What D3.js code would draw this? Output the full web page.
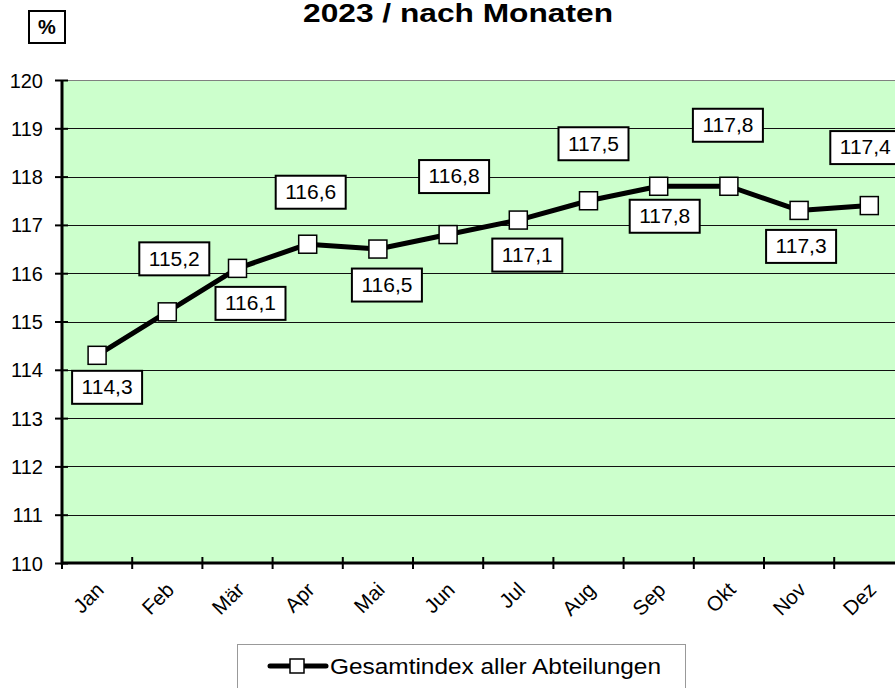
<!DOCTYPE html>
<html>
<head>
<meta charset="utf-8">
<script src="https://cdn.jsdelivr.net/npm/d3@7"></script>
<style>
  body { margin: 0; background: #fff; }
  svg { display: block; font-family: Arial, "Liberation Sans", sans-serif; }
</style>
</head>
<body>
<svg id="chart" width="895" height="688"></svg>
<script>
// Monthly index values, 2023
const months = ["Jan", "Feb", "Mär", "Apr", "Mai", "Jun", "Jul", "Aug", "Sep", "Okt", "Nov", "Dez"];
const values = [114.3, 115.2, 116.1, 116.6, 116.5, 116.8, 117.1, 117.5, 117.8, 117.8, 117.3, 117.4];
const yTicks = [110, 111, 112, 113, 114, 115, 116, 117, 118, 119, 120];
const seriesName = "Gesamtindex aller Abteilungen";
const titleText = "2023 / nach Monaten";
const unitText = "%";

// Layout: where each value label sits relative to its point
const labelOffsets = [
  [10, 32], [7, -53], [13, 35], [3, -52], [9, 36], [6, -58],
  [9, 35], [5, -57], [6, 30], [-1, -61], [2, 36], [-4, -58]
];

const svg = d3.select("#chart");
const plotLeft = 62, plotTop = 80, plotBottom = 563;
const step = 70.2;
const plotRight = plotLeft + step * months.length;

const x = d3.scaleBand().domain(months).range([plotLeft, plotRight]).padding(0);
const y = d3.scaleLinear().domain([110, 120]).range([plotBottom, plotTop]);

// Plot area
svg.append("rect")
  .attr("x", plotLeft).attr("y", plotTop)
  .attr("width", plotRight - plotLeft).attr("height", plotBottom - plotTop)
  .attr("fill", "#ccffcc");

// Horizontal grid lines
svg.append("g").selectAll("line")
  .data(yTicks.filter(v => v > 110))
  .join("line")
  .attr("x1", plotLeft).attr("x2", plotRight)
  .attr("y1", d => Math.round(y(d)) + 0.5).attr("y2", d => Math.round(y(d)) + 0.5)
  .attr("stroke", d => d === 120 ? "#808080" : "#111")
  .attr("stroke-width", 1);

// Y axis
const yAxis = d3.axisLeft(y).tickValues(yTicks).tickSize(0).tickPadding(0).tickFormat(d3.format("d"));
const gy = svg.append("g").attr("transform", `translate(${plotLeft},0)`).call(yAxis);
gy.select(".domain").remove();
gy.selectAll("text")
  .attr("x", -19).attr("dy", "0.35em")
  .attr("font-size", 20).attr("font-family", "Arial, 'Liberation Sans', sans-serif")
  .attr("fill", "#000");
gy.selectAll(".tick").append("line")
  .attr("x1", -7).attr("x2", 6).attr("stroke", "#000").attr("stroke-width", 2);
svg.append("line")
  .attr("x1", plotLeft).attr("x2", plotLeft).attr("y1", plotTop).attr("y2", plotBottom + 1.5)
  .attr("stroke", "#000").attr("stroke-width", 3);

// X axis
svg.append("line")
  .attr("x1", plotLeft).attr("x2", plotRight).attr("y1", plotBottom).attr("y2", plotBottom)
  .attr("stroke", "#000").attr("stroke-width", 3);
svg.append("g").selectAll("line")
  .data(months.map((m, i) => i).concat([months.length]))
  .join("line")
  .attr("x1", i => plotLeft + i * x.step()).attr("x2", i => plotLeft + i * x.step())
  .attr("y1", plotBottom - 6).attr("y2", plotBottom + 6)
  .attr("stroke", "#000").attr("stroke-width", 2);
svg.append("g").selectAll("text")
  .data(months)
  .join("text")
  .attr("transform", d => `translate(${x(d) + x.bandwidth() / 2 + 3},${plotBottom + 23}) rotate(-45)`)
  .attr("text-anchor", "end")
  .attr("dy", "0.35em")
  .attr("font-size", 20.5)
  .attr("fill", "#000")
  .text(d => d);

// Series line
const pts = months.map((m, i) => ({ m, v: values[i], i }));
const line = d3.line().x(d => x(d.m) + x.bandwidth() / 2).y(d => y(d.v));
svg.append("path")
  .datum(pts)
  .attr("d", line)
  .attr("fill", "none")
  .attr("stroke", "#000")
  .attr("stroke-width", 5)
  .attr("stroke-linejoin", "round");

// Square markers
const ms = 18;
svg.append("g").selectAll("rect")
  .data(pts)
  .join("rect")
  .attr("x", d => x(d.m) + x.bandwidth() / 2 - ms / 2)
  .attr("y", d => y(d.v) - ms / 2)
  .attr("width", ms).attr("height", ms)
  .attr("fill", "#fff").attr("stroke", "#000").attr("stroke-width", 1.5);

// Value labels in boxes
const fmt = v => d3.format(".1f")(v).replace(".", ",");
const lbl = svg.append("g").selectAll("g")
  .data(pts)
  .join("g")
  .attr("transform", d => `translate(${x(d.m) + x.bandwidth() / 2 + labelOffsets[d.i][0]},${y(d.v) + labelOffsets[d.i][1]})`);
lbl.append("rect")
  .attr("x", -35).attr("y", -16.5).attr("width", 70).attr("height", 33)
  .attr("fill", "#fff").attr("stroke", "#000").attr("stroke-width", 2);
lbl.append("text")
  .attr("text-anchor", "middle").attr("dy", "0.35em")
  .attr("font-size", 19.5).attr("fill", "#000")
  .attr("textLength", 51).attr("lengthAdjust", "spacingAndGlyphs")
  .text(d => fmt(d.v));

// Title
svg.append("text")
  .attr("x", 303).attr("y", 22)
  .attr("font-size", 25).attr("font-weight", "bold")
  .attr("textLength", 310).attr("lengthAdjust", "spacingAndGlyphs")
  .text(titleText);

// Unit box
svg.append("rect")
  .attr("x", 29).attr("y", 11).attr("width", 36).attr("height", 32)
  .attr("fill", "#fff").attr("stroke", "#000").attr("stroke-width", 2);
svg.append("text")
  .attr("x", 47).attr("y", 27).attr("dy", "0.35em")
  .attr("text-anchor", "middle")
  .attr("font-size", 20).attr("font-weight", "bold")
  .text(unitText);

// Legend
const lg = svg.append("g");
lg.append("rect")
  .attr("x", 237.5).attr("y", 644.5).attr("width", 448).attr("height", 60)
  .attr("fill", "#fff").attr("stroke", "#999").attr("stroke-width", 1);
lg.append("line")
  .attr("x1", 270).attr("x2", 326).attr("y1", 666).attr("y2", 666)
  .attr("stroke", "#000").attr("stroke-width", 5).attr("stroke-linecap", "round");
lg.append("rect")
  .attr("x", 290).attr("y", 659).attr("width", 14).attr("height", 14)
  .attr("fill", "#fff").attr("stroke", "#000").attr("stroke-width", 1.5);
lg.append("text")
  .attr("x", 330).attr("y", 666).attr("dy", "0.35em")
  .attr("font-size", 22)
  .attr("textLength", 331).attr("lengthAdjust", "spacingAndGlyphs")
  .text(seriesName);
</script>
</body>
</html>
